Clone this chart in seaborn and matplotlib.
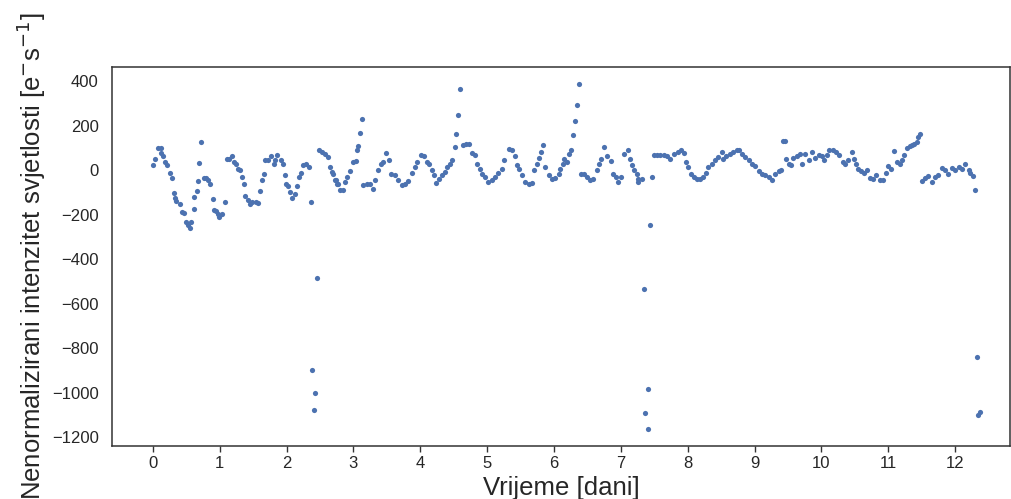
import matplotlib
matplotlib.use("Agg")
import matplotlib.pyplot as plt
import seaborn as sns
import pandas as pd

# Time [days]
vrijeme = [
    0.01, 0.03, 0.085, 0.13, 0.12, 0.16, 0.18, 0.22, 0.26, 0.28, 0.31, 0.33, 0.35, 0.40,
    0.43, 0.46, 0.49, 0.52, 0.56, 0.57, 0.61, 0.62, 0.66, 0.67, 0.69, 0.72, 0.76, 0.80,
    0.83, 0.86, 0.90, 0.92, 0.95, 0.97, 0.99, 1.03, 1.08, 1.11, 1.14, 1.18, 1.21, 1.24,
    1.27, 1.31, 1.33, 1.37, 1.38, 1.42, 1.45, 1.48, 1.54, 1.57, 1.61, 1.63, 1.67, 1.68,
    1.73, 1.77, 1.81, 1.83, 1.86, 1.91, 1.94, 1.97, 1.99, 2.02, 2.05, 2.08, 2.12, 2.15,
    2.18, 2.22, 2.25, 2.29, 2.33, 2.36,
    2.38, 2.41, 2.43, 2.455,
    2.49, 2.53, 2.58, 2.62, 2.65, 2.68, 2.70, 2.72, 2.74, 2.75, 2.77, 2.80, 2.85, 2.87,
    2.91, 2.95, 2.99, 3.04, 3.06, 3.07, 3.10, 3.13, 3.15, 3.20, 3.25, 3.29, 3.32, 3.37,
    3.41, 3.44, 3.49, 3.54, 3.57, 3.62, 3.67, 3.72, 3.77, 3.82, 3.87, 3.92, 3.95, 4.01,
    4.05, 4.10, 4.13, 4.17, 4.20, 4.23, 4.28, 4.33, 4.37, 4.40, 4.44, 4.48, 4.52, 4.54,
    4.56, 4.59, 4.64, 4.69, 4.73, 4.78, 4.82, 4.85, 4.89, 4.93, 4.97, 5.02, 5.07, 5.12,
    5.17, 5.22, 5.25, 5.32, 5.37, 5.42, 5.44, 5.48, 5.52, 5.57, 5.62, 5.67, 5.70, 5.74,
    5.78, 5.81, 5.83, 5.87, 5.92, 5.97, 6.02, 6.07, 6.09, 6.13, 6.15, 6.19, 6.23, 6.26,
    6.29, 6.31, 6.35, 6.37, 6.40, 6.45, 6.50, 6.54, 6.59, 6.64, 6.68, 6.71, 6.75, 6.80,
    6.85, 6.89, 6.93, 6.96, 7.00, 7.05, 7.10, 7.13, 7.16, 7.20, 7.24, 7.26, 7.25, 7.31,
    7.347, 7.36, 7.40, 7.41, 7.43,
    7.46, 7.49, 7.54, 7.59, 7.64, 7.69, 7.74, 7.79, 7.85, 7.90, 7.94, 7.98, 8.01, 8.05,
    8.09, 8.14, 8.19, 8.23, 8.27, 8.31, 8.36, 8.41, 8.46, 8.51, 8.53, 8.58, 8.63, 8.68,
    8.73, 8.77, 8.81, 8.86, 8.91, 8.96, 9.01, 9.06, 9.11, 9.16, 9.21, 9.26, 9.31, 9.36,
    9.39, 9.42, 9.46, 9.47, 9.51, 9.54, 9.58, 9.63, 9.68, 9.71, 9.76, 9.81, 9.86, 9.91,
    9.96, 10.01, 10.04, 10.08, 10.12, 10.17, 10.22, 10.27, 10.32, 10.35, 10.40, 10.45,
    10.48, 10.52, 10.55, 10.59, 10.63, 10.68, 10.72, 10.77, 10.82, 10.87, 10.92, 10.97,
    11.00, 11.04, 11.09, 11.13, 11.17, 11.20, 11.24, 11.28, 11.32, 11.35, 11.39, 11.43,
    11.45, 11.48, 11.50, 11.55, 11.60, 11.65, 11.70, 11.75, 11.80, 11.85, 11.90, 11.95,
    12.00, 12.05, 12.10, 12.15, 12.20, 12.22, 12.27, 12.30,
    12.32, 12.34, 12.37,
]

# Flux [e- s-1]
intenzitet = [
    24, 51, 100, 100, 76, 61, 36, 21, -13, -35, -103, -124, -139, -154,
    -189, -193, -234, -249, -259, -234, -174, -121, -94, -49, 33, 124, -35, -35,
    -46, -64, -129, -178, -184, -196, -211, -196, -144, 49, 51, 61, 36, 25,
    6, -2, -31, -64, -118, -133, -154, -144, -144, -148, -94, -44, -19, 46,
    43, 61, 28, 46, 66, 46, 25, -24, -62, -73, -99, -124, -109, -73,
    -31, -13, 21, 25, 13, -144,
    -899, -1076, -1004, -484,
    91, 81, 70, 58, 13, -9, -17, -46, -46, -64, -64, -88, -91, -54,
    -31, -4, 36, 40, 88, 109, 166, 229, -69, -64, -62, -84, -46, -2,
    25, 36, 76, 43, -19, -24, -46, -69, -62, -49, -13, 13, 36, 66,
    61, 36, 28, -2, -24, -58, -39, -24, -9, 13, 25, 46, 103, 160,
    249, 364, 111, 115, 118, 76, 66, 28, 6, -17, -31, -54, -46, -31,
    -13, 6, 46, 96, 91, 61, 21, 6, -24, -54, -62, -58, -2, 25,
    55, 81, 111, 13, -24, -39, -35, -17, 6, 28, 51, 36, 70, 88,
    156, 219, 291, 385, -17, -17, -31, -46, -39, -2, 28, 51, 103, 61,
    40, -19, -31, -54, -31, 70, 91, 51, 21, -2, -17, -39, -54, -39,
    -536, -1091, -1164, -986, -249,
    -31, 66, 66, 66, 66, 61, 51, 70, 81, 88, 76, 36, 13, -17,
    -31, -39, -39, -31, -13, 13, 28, 43, 58, 81, 51, 61, 70, 81,
    91, 88, 70, 58, 43, 28, 16, -4, -17, -24, -31, -46, -19, -4,
    -2, 130, 130, 51, 25, 21, 55, 61, 70, 28, 70, 46, 81, 55,
    66, 61, 43, 66, 88, 88, 81, 66, 36, 28, 43, 81,
    51, 28, 6, -4, -13, -2, -35, -39, -24, -46, -46, -13,
    16, 6, 85, 36, 28, 43, 66, 100, 106, 111, 115, 126,
    148, 163, -49, -35, -28, -54, -31, -24, 10, 1, -17, 10,
    -2, 13, 6, 25, -2, -13, -28, -91,
    -840, -1101, -1086,
]

x_ticks = list(range(0, 13))
y_ticks = [400, 200, 0, -200, -400, -600, -800, -1000, -1200]

df = pd.DataFrame({"t": vrijeme, "f": intenzitet})

sns.set_theme(style="white")
plt.rcParams["font.family"] = ["Liberation Sans", "DejaVu Sans"]
plt.rcParams["axes.edgecolor"] = "#333333"
plt.rcParams["axes.linewidth"] = 1.1

fig = plt.figure(figsize=(10.12, 4.99), dpi=100)
ax = fig.add_axes([112 / 1012, 1 - 446 / 499, (1010 - 112) / 1012, (446 - 67) / 499])

sns.scatterplot(data=df, x="t", y="f", ax=ax, color="#4C72B0", s=14, linewidth=0)

ax.set_xlim(-0.61, 12.82)
ax.set_ylim(-1240, 463)
ax.set_xticks(x_ticks)
ax.set_yticks(y_ticks)
ax.tick_params(axis="both", labelsize=12, colors="#262626")
ax.tick_params(axis="x", bottom=True, length=4, width=1, color="#333333")
ax.set_xlabel("Vrijeme [dani]", fontsize=18.5, labelpad=3)
ax.set_ylabel(r"Nenormalizirani intenzitet svjetlosti [e$^{-}$s$^{-1}$]", fontsize=18.5, labelpad=3)
for sp in ax.spines.values():
    sp.set_visible(True)

fig.savefig("out.png", dpi=100)
